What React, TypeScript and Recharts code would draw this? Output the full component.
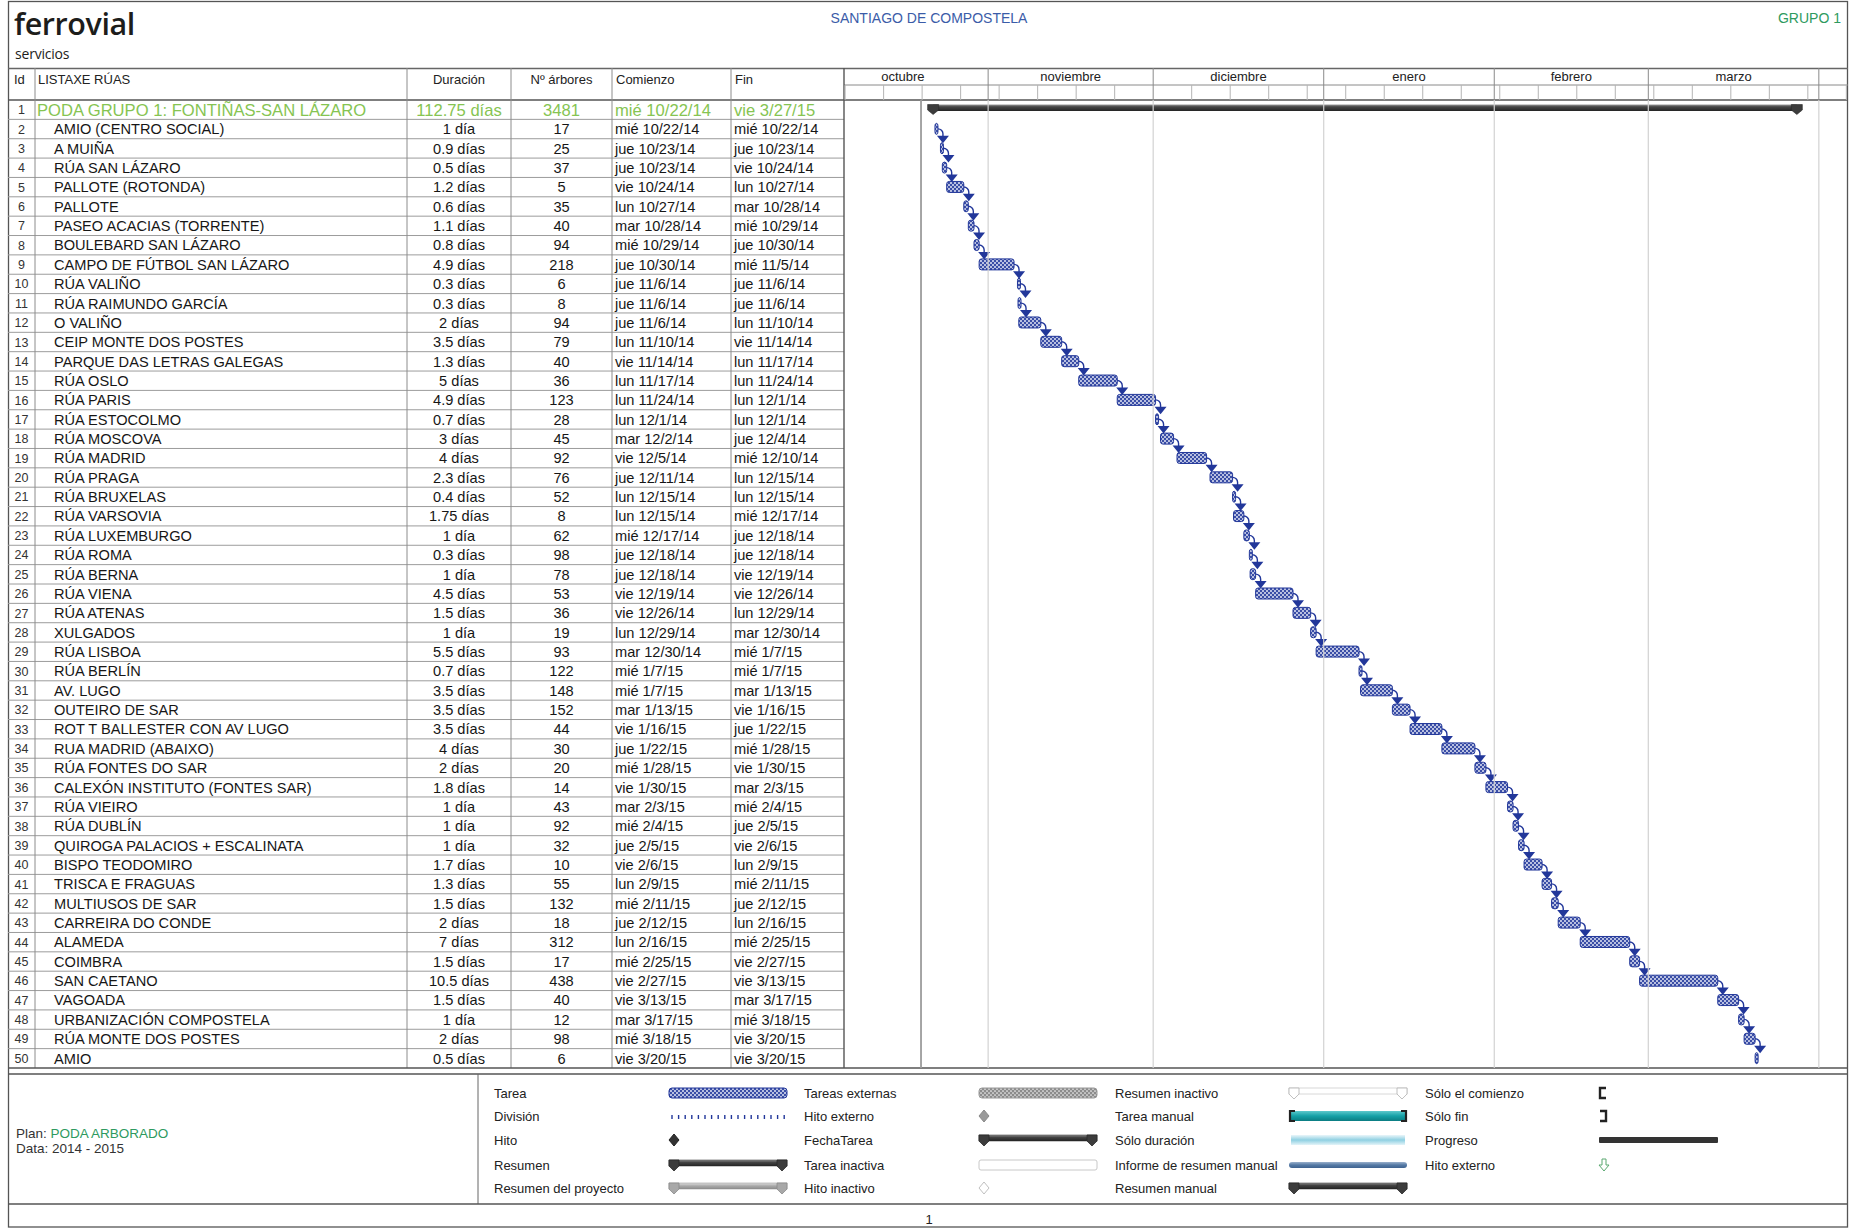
import React from "react";
import { BarChart, Bar, XAxis, YAxis, ReferenceLine } from "recharts";

const FONT = "'Liberation Sans', Arial, Helvetica, sans-serif";

// ---- table columns (one entry per row, row 1 is the project summary) ----
const names = [
  "PODA GRUPO 1: FONTIÑAS-SAN LÁZARO", "AMIO (CENTRO SOCIAL)", "A MUIÑA", "RÚA SAN LÁZARO",
  "PALLOTE (ROTONDA)", "PALLOTE", "PASEO ACACIAS (TORRENTE)", "BOULEBARD SAN LÁZARO",
  "CAMPO DE FÚTBOL SAN LÁZARO", "RÚA VALIÑO", "RÚA RAIMUNDO GARCÍA", "O VALIÑO",
  "CEIP MONTE DOS POSTES", "PARQUE DAS LETRAS GALEGAS", "RÚA OSLO", "RÚA PARIS",
  "RÚA ESTOCOLMO", "RÚA MOSCOVA", "RÚA MADRID", "RÚA PRAGA", "RÚA BRUXELAS",
  "RÚA VARSOVIA", "RÚA LUXEMBURGO", "RÚA ROMA", "RÚA BERNA", "RÚA VIENA", "RÚA ATENAS",
  "XULGADOS", "RÚA LISBOA", "RÚA BERLÍN", "AV. LUGO", "OUTEIRO DE SAR",
  "ROT T BALLESTER CON AV LUGO", "RUA MADRID (ABAIXO)", "RÚA FONTES DO SAR",
  "CALEXÓN INSTITUTO (FONTES SAR)", "RÚA VIEIRO", "RÚA DUBLÍN", "QUIROGA PALACIOS + ESCALINATA",
  "BISPO TEODOMIRO", "TRISCA E FRAGUAS", "MULTIUSOS DE SAR", "CARREIRA DO CONDE", "ALAMEDA",
  "COIMBRA", "SAN CAETANO", "VAGOADA", "URBANIZACIÓN COMPOSTELA", "RÚA MONTE DOS POSTES", "AMIO",
];

const durations = [
  "112.75 días", "1 día", "0.9 días", "0.5 días", "1.2 días", "0.6 días", "1.1 días", "0.8 días",
  "4.9 días", "0.3 días", "0.3 días", "2 días", "3.5 días", "1.3 días", "5 días", "4.9 días",
  "0.7 días", "3 días", "4 días", "2.3 días", "0.4 días", "1.75 días", "1 día", "0.3 días",
  "1 día", "4.5 días", "1.5 días", "1 día", "5.5 días", "0.7 días", "3.5 días", "3.5 días",
  "3.5 días", "4 días", "2 días", "1.8 días", "1 día", "1 día", "1 día", "1.7 días", "1.3 días",
  "1.5 días", "2 días", "7 días", "1.5 días", "10.5 días", "1.5 días", "1 día", "2 días", "0.5 días",
];

const trees = [
  3481, 17, 25, 37, 5, 35, 40, 94, 218, 6, 8, 94, 79, 40, 36, 123, 28, 45, 92, 76, 52, 8, 62, 98,
  78, 53, 36, 19, 93, 122, 148, 152, 44, 30, 20, 14, 43, 92, 32, 10, 55, 132, 18, 312, 17, 438,
  40, 12, 98, 6,
];

const startLabels = [
  "mié 10/22/14", "mié 10/22/14", "jue 10/23/14", "jue 10/23/14", "vie 10/24/14", "lun 10/27/14",
  "mar 10/28/14", "mié 10/29/14", "jue 10/30/14", "jue 11/6/14", "jue 11/6/14", "jue 11/6/14",
  "lun 11/10/14", "vie 11/14/14", "lun 11/17/14", "lun 11/24/14", "lun 12/1/14", "mar 12/2/14",
  "vie 12/5/14", "jue 12/11/14", "lun 12/15/14", "lun 12/15/14", "mié 12/17/14", "jue 12/18/14",
  "jue 12/18/14", "vie 12/19/14", "vie 12/26/14", "lun 12/29/14", "mar 12/30/14", "mié 1/7/15",
  "mié 1/7/15", "mar 1/13/15", "vie 1/16/15", "jue 1/22/15", "mié 1/28/15", "vie 1/30/15",
  "mar 2/3/15", "mié 2/4/15", "jue 2/5/15", "vie 2/6/15", "lun 2/9/15", "mié 2/11/15",
  "jue 2/12/15", "lun 2/16/15", "mié 2/25/15", "vie 2/27/15", "vie 3/13/15", "mar 3/17/15",
  "mié 3/18/15", "vie 3/20/15",
];

const endLabels = [
  "vie 3/27/15", "mié 10/22/14", "jue 10/23/14", "vie 10/24/14", "lun 10/27/14", "mar 10/28/14",
  "mié 10/29/14", "jue 10/30/14", "mié 11/5/14", "jue 11/6/14", "jue 11/6/14", "lun 11/10/14",
  "vie 11/14/14", "lun 11/17/14", "lun 11/24/14", "lun 12/1/14", "lun 12/1/14", "jue 12/4/14",
  "mié 12/10/14", "lun 12/15/14", "lun 12/15/14", "mié 12/17/14", "jue 12/18/14", "jue 12/18/14",
  "vie 12/19/14", "vie 12/26/14", "lun 12/29/14", "mar 12/30/14", "mié 1/7/15", "mié 1/7/15",
  "mar 1/13/15", "vie 1/16/15", "jue 1/22/15", "mié 1/28/15", "vie 1/30/15", "mar 2/3/15",
  "mié 2/4/15", "jue 2/5/15", "vie 2/6/15", "lun 2/9/15", "mié 2/11/15", "jue 2/12/15",
  "lun 2/16/15", "mié 2/25/15", "vie 2/27/15", "vie 3/13/15", "mar 3/17/15", "mié 3/18/15",
  "vie 3/20/15", "vie 3/20/15",
];

// ---- gantt bars: days counted from 1 Oct 2014, fraction = time of day ----
const barStart = [
  21, 21.333, 22.333, 22.675, 23.467, 26.575, 27.4, 28.433, 29.367, 36.333, 36.433, 36.575,
  40.575, 44.367, 47.467, 54.467, 61.433, 62.333, 65.333, 71.333, 75.433, 75.608, 77.483,
  78.483, 78.625, 79.625, 86.417, 89.625, 90.625, 98.417, 98.692, 104.483, 107.692, 113.483,
  119.483, 121.483, 125.417, 126.417, 127.417, 128.417, 131.692, 133.417, 134.625, 138.625,
  147.625, 149.417, 163.625, 167.417, 168.417, 170.417,
];
const barEnd = [
  178, 21.708, 22.675, 23.467, 26.575, 27.4, 28.433, 29.367, 35.708, 36.433, 36.575, 40.575,
  44.367, 47.467, 54.467, 61.433, 61.708, 64.708, 70.708, 75.433, 75.608, 77.483, 78.483,
  78.625, 79.625, 86.417, 89.625, 90.625, 98.417, 98.692, 104.483, 107.692, 113.483, 119.483,
  121.483, 125.417, 126.417, 127.417, 128.417, 131.692, 133.417, 134.625, 138.625, 147.625,
  149.417, 163.625, 167.417, 168.417, 170.417, 170.625,
];

// ---- timescale ----
const monthNames = ["octubre", "noviembre", "diciembre", "enero", "febrero", "marzo"];
const monthMids = [15.5, 46, 76.5, 107.5, 137, 166.5];
const monthStarts = [31, 61, 92, 123, 151, 182];
const weekStarts = [
  5, 12, 19, 26, 33, 40, 47, 54, 61, 68, 75, 82, 89, 96, 103, 110, 117, 124, 131, 138, 145,
  152, 159, 166, 173, 180, 187,
];
const STATUS_DAY = 18.8;
const DOMAIN: [number, number] = [4.8, 187.3];

// ---- legend ----
const legendCol1 = ["Tarea", "División", "Hito", "Resumen", "Resumen del proyecto"];
const legendCol2 = ["Tareas externas", "Hito externo", "FechaTarea", "Tarea inactiva", "Hito inactivo"];
const legendCol3 = ["Resumen inactivo", "Tarea manual", "Sólo duración", "Informe de resumen manual", "Resumen manual"];
const legendCol4 = ["Sólo el comienzo", "Sólo fin", "Progreso", "Hito externo"];

// layout
const HEADER_TOP = 68;
const TABLE_TOP = 100;
const ROW_H = 19.36;
const TABLE_BOTTOM = TABLE_TOP + names.length * ROW_H;
const GANTT_X = 844;
const GANTT_W = 1004;
const MONTH_H = 17;
const HDR_H = TABLE_TOP - HEADER_TOP;
const COLS = [8, 35, 407, 511, 612, 731, 844];
const GREEN_LIGHT = "#86c452";
const GREEN = "#2e9a60";
const NAVY = "#22379a";

const rows = names.map((n, i) => ({
  id: i + 1,
  start: barStart[i],
  end: barEnd[i],
  kind: i === 0 ? "summary" : "task",
  link: i > 0 && i < names.length - 1,
}));

const headerTicks = Array.from(new Set([...weekStarts, ...monthStarts, ...monthMids]))
  .filter((v) => v >= DOMAIN[0] && v <= DOMAIN[1])
  .sort((a, b) => a - b);

function capPoints(cx: number, top: number, w = 11, h = 10) {
  const l = cx - w / 2;
  return `${l},${top} ${l + w},${top} ${l + w},${top + h * 0.55} ${cx},${top + h} ${l},${top + h * 0.55}`;
}

function HeaderTick(props: any) {
  const { x, payload } = props;
  const v = payload.value;
  if (monthStarts.includes(v)) {
    return <line x1={x} x2={x} y1={0} y2={HDR_H} stroke="#8a8a8a" />;
  }
  const mm = monthMids.indexOf(v);
  if (mm >= 0) {
    return (
      <text x={x} y={13} textAnchor="middle" fontSize={13} fill="#222" style={{ fontFamily: FONT }}>
        {monthNames[mm]}
      </text>
    );
  }
  return <line x1={x} x2={x} y1={MONTH_H} y2={HDR_H} stroke="#b4b4b4" />;
}

function GanttShape(props: any) {
  const { x, y, width, height, payload } = props;
  const yc = y + height / 2;
  if (payload.kind === "summary") {
    const x1 = x + width;
    return (
      <g>
        <rect x={x} y={yc - 5} width={width} height={6.5} fill="url(#gSum)" />
        <polygon points={capPoints(x, yc - 5)} fill="#3c3c3c" stroke="#2a2a2a" strokeWidth={0.6} />
        <polygon points={capPoints(x1, yc - 5)} fill="#3c3c3c" stroke="#2a2a2a" strokeWidth={0.6} />
      </g>
    );
  }
  const w = Math.max(width, 3);
  const x1 = x + w;
  const ax = x1 + 5;
  const nextTop = y + ROW_H;
  const triTop = nextTop - 7;
  return (
    <g>
      <rect x={x} y={y} width={w} height={height} rx={2.5} fill="url(#gTask)" stroke={NAVY} strokeWidth={1} />
      {payload.link && (
        <g>
          <path d={`M${x1},${yc} A5,5 0 0 1 ${ax},${yc + 5} V${triTop + 1}`} fill="none" stroke={NAVY} strokeWidth={1.4} />
          <polygon points={`${ax - 6},${triTop} ${ax + 6},${triTop} ${ax},${nextTop + 0.5}`} fill={NAVY} />
        </g>
      )}
    </g>
  );
}

function Gantt() {
  return (
    <BarChart
      layout="vertical"
      width={GANTT_W}
      height={HDR_H + names.length * ROW_H}
      data={rows}
      margin={{ top: 0, right: 0, bottom: 0, left: 0 }}
      barSize={11}
    >
      <defs>
        <pattern id="gTask" width={4} height={4} patternUnits="userSpaceOnUse">
          <rect width={4} height={4} fill="#3a4ea6" />
          <circle cx={1} cy={1} r={0.95} fill="#eef0fa" />
          <circle cx={3} cy={3} r={0.95} fill="#eef0fa" />
        </pattern>
        <linearGradient id="gSum" x1="0" y1="0" x2="0" y2="1">
          <stop offset="0" stopColor="#9a9a9a" />
          <stop offset="0.35" stopColor="#464646" />
          <stop offset="1" stopColor="#242424" />
        </linearGradient>
      </defs>
      <XAxis
        type="number"
        orientation="top"
        domain={DOMAIN}
        allowDataOverflow
        ticks={headerTicks}
        interval={0}
        height={HDR_H}
        axisLine={false}
        tickLine={false}
        tick={(p: any) => <HeaderTick {...p} />}
      />
      <YAxis type="category" dataKey="id" hide />
      {monthStarts.map((m) => (
        <ReferenceLine key={m} x={m} stroke="#d2d2d2" strokeWidth={1.2} />
      ))}
      <ReferenceLine x={STATUS_DAY} stroke="#9c9c9c" strokeWidth={1.8} />
      <Bar dataKey={(d: any) => [d.start, d.end]} shape={GanttShape} isAnimationActive={false} />
    </BarChart>
  );
}

function diamond(cx: number, cy: number, fill: string, stroke: string) {
  return <polygon points={`${cx},${cy - 6} ${cx + 5},${cy} ${cx},${cy + 6} ${cx - 5},${cy}`} fill={fill} stroke={stroke} />;
}

function summaryGlyph(x0: number, x1: number, yc: number, bar: string, cap: string, capStroke: string) {
  const top = yc - 5;
  return (
    <g>
      <rect x={x0} y={top} width={x1 - x0} height={6} fill={bar} stroke={capStroke} strokeWidth={0.5} />
      <polygon points={capPoints(x0 + 5, top, 10, 11)} fill={cap} stroke={capStroke} strokeWidth={0.8} />
      <polygon points={capPoints(x1 - 5, top, 10, 11)} fill={cap} stroke={capStroke} strokeWidth={0.8} />
    </g>
  );
}

function LegendGlyph({ col, row, yc }: { col: number; row: number; yc: number }) {
  const xs = [669, 979, 1289, 1599];
  const x0 = xs[col];
  const x1 = x0 + 118;
  if (col === 0) {
    if (row === 0) return <rect x={x0} y={yc - 5} width={x1 - x0} height={10} rx={3} fill="url(#lTask)" stroke={NAVY} />;
    if (row === 1)
      return (
        <g>
          {Array.from({ length: 18 }, (_, k) => (
            <line key={k} x1={x0 + 3 + k * 6.6} x2={x0 + 3 + k * 6.6} y1={yc - 1} y2={yc + 3} stroke={NAVY} strokeWidth={1.4} />
          ))}
        </g>
      );
    if (row === 2) return diamond(x0 + 5, yc, "#333", "#222");
    if (row === 3) return summaryGlyph(x0, x1, yc, "url(#lSum)", "#3c3c3c", "#2a2a2a");
    return summaryGlyph(x0, x1, yc, "url(#lProj)", "#a8a8a8", "#8a8a8a");
  }
  if (col === 1) {
    if (row === 0) return <rect x={x0} y={yc - 5} width={x1 - x0} height={10} rx={3} fill="url(#lExt)" stroke="#999" />;
    if (row === 1) return diamond(x0 + 5, yc, "#9a9a9a", "#8a8a8a");
    if (row === 2) return summaryGlyph(x0, x1, yc, "url(#lSum)", "#3c3c3c", "#2a2a2a");
    if (row === 3) return <rect x={x0} y={yc - 5} width={x1 - x0} height={10} rx={2} fill="#fff" stroke="#c8c8c8" />;
    return diamond(x0 + 5, yc, "#fff", "#c0c0c0");
  }
  if (col === 2) {
    if (row === 0) return summaryGlyph(x0, x1, yc, "#fff", "#fff", "#b0b0b0");
    if (row === 1)
      return (
        <g>
          <rect x={x0} y={yc - 5} width={x1 - x0} height={10} fill="url(#lManual)" />
          <path d={`M${x0 + 6},${yc - 5} H${x0 + 1} V${yc + 5} H${x0 + 6}`} fill="none" stroke="#222" strokeWidth={2.2} />
          <path d={`M${x1 - 6},${yc - 5} H${x1 - 1} V${yc + 5} H${x1 - 6}`} fill="none" stroke="#222" strokeWidth={2.2} />
        </g>
      );
    if (row === 2) return <rect x={x0 + 2} y={yc - 5} width={x1 - x0 - 4} height={10} fill="url(#lDur)" />;
    if (row === 3) return <rect x={x0} y={yc - 3} width={x1 - x0} height={6} rx={3} fill="url(#lRep)" />;
    return summaryGlyph(x0, x1, yc, "url(#lSum)", "#3c3c3c", "#2a2a2a");
  }
  if (row === 0) return <path d={`M${x0 + 7},${yc - 5} H${x0 + 1} V${yc + 5} H${x0 + 7}`} fill="none" stroke="#222" strokeWidth={2.4} />;
  if (row === 1) return <path d={`M${x0 + 1},${yc - 5} H${x0 + 7} V${yc + 5} H${x0 + 1}`} fill="none" stroke="#222" strokeWidth={2.4} />;
  if (row === 2) return <rect x={x0} y={yc - 3} width={119} height={6} rx={1} fill="#333" />;
  const cx = x0 + 5;
  return (
    <polygon
      points={`${cx - 2},${yc - 6} ${cx + 2},${yc - 6} ${cx + 2},${yc} ${cx + 5},${yc} ${cx},${yc + 6} ${cx - 5},${yc} ${cx - 2},${yc}`}
      fill="#fff"
      stroke="#5aa870"
      strokeWidth={1}
    />
  );
}

function Page() {
  const legendRows = [1093, 1116, 1140, 1165, 1188];
  const legendCols = [legendCol1, legendCol2, legendCol3, legendCol4];
  const legendLabelX = [494, 804, 1115, 1425];
  return (
    <svg width={1850} height={1229} style={{ position: "absolute", left: 0, top: 0, fontFamily: FONT }}>
      <defs>
        <pattern id="lTask" width={4} height={4} patternUnits="userSpaceOnUse">
          <rect width={4} height={4} fill="#3a4ea6" />
          <circle cx={1} cy={1} r={0.95} fill="#eef0fa" />
          <circle cx={3} cy={3} r={0.95} fill="#eef0fa" />
        </pattern>
        <pattern id="lExt" width={4} height={4} patternUnits="userSpaceOnUse">
          <rect width={4} height={4} fill="#8c8c8c" />
          <circle cx={1} cy={1} r={0.85} fill="#f2f2f2" />
          <circle cx={3} cy={3} r={0.85} fill="#f2f2f2" />
        </pattern>
        <linearGradient id="lSum" x1="0" y1="0" x2="0" y2="1">
          <stop offset="0" stopColor="#9a9a9a" />
          <stop offset="0.35" stopColor="#464646" />
          <stop offset="1" stopColor="#242424" />
        </linearGradient>
        <linearGradient id="lProj" x1="0" y1="0" x2="0" y2="1">
          <stop offset="0" stopColor="#e0e0e0" />
          <stop offset="0.5" stopColor="#a8a8a8" />
          <stop offset="1" stopColor="#8e8e8e" />
        </linearGradient>
        <linearGradient id="lManual" x1="0" y1="0" x2="0" y2="1">
          <stop offset="0" stopColor="#5cc8cc" />
          <stop offset="0.5" stopColor="#14a0a6" />
          <stop offset="1" stopColor="#0b7c82" />
        </linearGradient>
        <linearGradient id="lDur" x1="0" y1="0" x2="0" y2="1">
          <stop offset="0" stopColor="#eaf6fa" />
          <stop offset="0.5" stopColor="#8fd0e2" />
          <stop offset="1" stopColor="#e4f4f9" />
        </linearGradient>
        <linearGradient id="lRep" x1="0" y1="0" x2="0" y2="1">
          <stop offset="0" stopColor="#9ab0cc" />
          <stop offset="0.5" stopColor="#557aa5" />
          <stop offset="1" stopColor="#3f6390" />
        </linearGradient>
      </defs>

      {/* frame */}
      <rect x={8.5} y={1.5} width={1839} height={1225.5} fill="none" stroke="#555" strokeWidth={1.3} />

      {/* page header */}
      <text x={14} y={35} fontSize={30.5} fontWeight={600} fill="#1d1d1b" style={{ fontFamily: "'Open Sans', sans-serif" }} letterSpacing={-0.4}>
        ferrovial
      </text>
      <text x={15} y={58.5} fontSize={14} fill="#1d1d1b" style={{ fontFamily: "'Open Sans', sans-serif" }} letterSpacing={-0.2}>
        servicios
      </text>
      <text x={929} y={22.5} fontSize={14} textAnchor="middle" fill="#3b5ca8">SANTIAGO DE COMPOSTELA</text>
      <text x={1841} y={22.5} fontSize={14} textAnchor="end" fill={GREEN}>GRUPO 1</text>

      {/* header lines */}
      <line x1={8} x2={1848} y1={HEADER_TOP + 0.5} y2={HEADER_TOP + 0.5} stroke="#666" strokeWidth={1.4} />
      <line x1={GANTT_X} x2={1848} y1={HEADER_TOP + MONTH_H} y2={HEADER_TOP + MONTH_H} stroke="#8a8a8a" />
      <line x1={8} x2={1848} y1={TABLE_TOP} y2={TABLE_TOP} stroke="#555" strokeWidth={1.6} />

      {/* table grid */}
      {names.slice(1).map((_, i) => (
        <line key={i} x1={8} x2={GANTT_X} y1={TABLE_TOP + (i + 1) * ROW_H} y2={TABLE_TOP + (i + 1) * ROW_H} stroke="#9c9c9c" />
      ))}
      {COLS.slice(1, 6).map((cx) => (
        <line key={cx} x1={cx} x2={cx} y1={HEADER_TOP} y2={TABLE_BOTTOM} stroke="#8c8c8c" />
      ))}
      <line x1={GANTT_X} x2={GANTT_X} y1={HEADER_TOP} y2={TABLE_BOTTOM} stroke="#555" strokeWidth={1.4} />

      {/* table header */}
      <g fontSize={13} fill="#222">
        <text x={14} y={83.5}>Id</text>
        <text x={38} y={83.5}>LISTAXE RÚAS</text>
        <text x={459} y={83.5} textAnchor="middle">Duración</text>
        <text x={561.5} y={83.5} textAnchor="middle">Nº árbores</text>
        <text x={616} y={83.5}>Comienzo</text>
        <text x={735} y={83.5}>Fin</text>
      </g>

      {/* table rows */}
      {names.map((n, i) => {
        const yc = TABLE_TOP + (i + 0.5) * ROW_H;
        const sum = i === 0;
        const fs = sum ? 16.6 : 14.6;
        const by = yc + fs * 0.36;
        const col = sum ? GREEN_LIGHT : "#161616";
        return (
          <g key={i} fontSize={fs} fill={col}>
            <text x={21.5} y={yc + 4.5} fontSize={12.5} textAnchor="middle" fill="#333">{i + 1}</text>
            <text x={sum ? 37 : 54} y={by}>{n}</text>
            <text x={459} y={by} textAnchor="middle">{durations[i]}</text>
            <text x={561.5} y={by} textAnchor="middle">{trees[i]}</text>
            <text x={615} y={by}>{startLabels[i]}</text>
            <text x={734} y={by}>{endLabels[i]}</text>
          </g>
        );
      })}

      {/* table bottom / legend box */}
      <line x1={8} x2={1848} y1={TABLE_BOTTOM} y2={TABLE_BOTTOM} stroke="#555" strokeWidth={1.4} />
      <line x1={8} x2={1848} y1={1074} y2={1074} stroke="#555" strokeWidth={1.4} />
      <line x1={478} x2={478} y1={1074} y2={1204} stroke="#666" />
      <line x1={8} x2={1848} y1={1204} y2={1204} stroke="#555" strokeWidth={1.4} />

      <text x={16} y={1137.5} fontSize={13.5} fill="#333">
        Plan: <tspan fill={GREEN}>PODA ARBORADO</tspan>
      </text>
      <text x={16} y={1152.5} fontSize={13.5} fill="#333">Data: 2014 - 2015</text>

      {legendCols.map((labels, c) =>
        labels.map((lab, r) => (
          <g key={`${c}-${r}`}>
            <text x={legendLabelX[c]} y={legendRows[r] + 4.6} fontSize={13} fill="#222">{lab}</text>
            <LegendGlyph col={c} row={r} yc={legendRows[r]} />
          </g>
        ))
      )}

      <text x={929} y={1224} fontSize={13} textAnchor="middle" fill="#222">1</text>
    </svg>
  );
}

export default function App() {
  return (
    <div style={{ position: "absolute", left: 0, top: 0, width: 1850, height: 1229, background: "#fff", fontFamily: FONT }}>
      <Page />
      <div style={{ position: "absolute", left: GANTT_X, top: HEADER_TOP }}>
        <Gantt />
      </div>
    </div>
  );
}
